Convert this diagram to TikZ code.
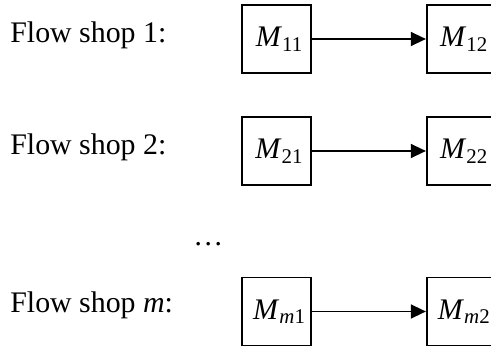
\documentclass[tikz,border=0pt]{standalone}
\usepackage{fontspec}
\setmainfont{Liberation Serif}
\usetikzlibrary{arrows.meta,positioning}
\newcommand{\schrift}{\fontsize{17}{20}\selectfont}
\newcommand{\masch}[1]{\hspace{0.12cm}\textit{M}\textsubscript{#1}}
\tikzset{
  maschine/.style={draw,line width=1pt,minimum width=1.38cm,minimum height=1.36cm,inner sep=0pt,font=\schrift},
  etikett/.style={anchor=base west,inner sep=0pt,font=\schrift},
  fluss/.style={-{Triangle[length=3mm,width=2.8mm]},line width=0.8pt},
}
\begin{document}
\begin{tikzpicture}
  \useasboundingbox (0,0) rectangle (9.82,6.96);
  % Zeilen
  \node[etikett] (fs1) at (0.2,6.10) {Flow shop 1:};
  \node[etikett] (fs2) at (0.2,3.86) {Flow shop 2:};
  \node[etikett] (fsm) at (0.2,0.70) {Flow shop \textit{m}:};
  \node[etikett] (pkt) at (3.86,2.04) {\ldots};
  % Maschinen
  \node[maschine] (m11) at (5.53,6.18) {\masch{11}};
  \node[maschine,right=2.28cm of m11] (m12) {\masch{12}};
  \node[maschine] (m21) at (5.53,3.94) {\masch{21}};
  \node[maschine,right=2.28cm of m21] (m22) {\masch{22}};
  \node[maschine] (mm1) at (5.53,0.73) {\masch{\textit{m}1}};
  \node[maschine,right=2.28cm of mm1] (mm2) {\masch{\textit{m}2}};
  \draw[fluss] (m11) -- (m12);
  \draw[fluss] (m21) -- (m22);
  \draw[fluss] (mm1) -- (mm2);
\end{tikzpicture}
\end{document}
